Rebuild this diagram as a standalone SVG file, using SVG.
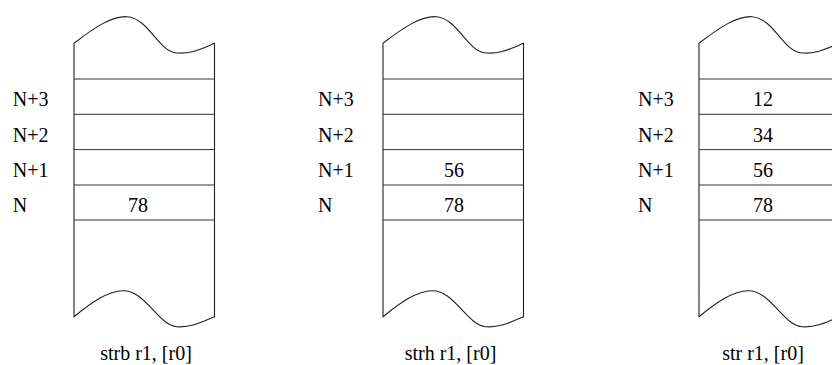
<svg xmlns="http://www.w3.org/2000/svg" width="832" height="365" viewBox="0 0 832 365">
<style>
.sh{fill:none;stroke:#222;stroke-width:1.1}
.row{stroke:#333;stroke-width:1}
.v{text-anchor:middle}
.c{text-anchor:middle}
</style>
<defs>
<g id="mem">
<path class="sh" d="M74,43.3 C95,27 112,16 127,16.7 C148,18 158,50 175,52.7 C190,55 203,48 214.5,43.3 L214.5,316.7 C204,321 192,328 176.7,326.7 C158,325 145,290 123,290.7 C108,291 92,302 74,316.7 Z"/>
<line class="row" x1="74" y1="79" x2="214.5" y2="79"/>
<line class="row" x1="74" y1="114.3" x2="214.5" y2="114.3"/>
<line class="row" x1="74" y1="149.6" x2="214.5" y2="149.6"/>
<line class="row" x1="74" y1="185" x2="214.5" y2="185"/>
<line class="row" x1="74" y1="220" x2="214.5" y2="220"/>
</g>
</defs>
<g font-family="Liberation Serif, Times New Roman, DejaVu Serif, serif" font-size="20" fill="#000">
<g id="strb">
<use href="#mem"/>
<text x="12.7" y="106">N+3</text>
<text x="12.7" y="141.5">N+2</text>
<text x="12.7" y="176.7">N+1</text>
<text x="12.7" y="211.7">N</text>
<text class="v" x="138" y="211.7">78</text>
<text class="c" x="146" y="360">strb r1, [r0]</text>
</g>
<g id="strh">
<use href="#mem" transform="translate(309,0)"/>
<text x="318" y="106">N+3</text>
<text x="318" y="141.5">N+2</text>
<text x="318" y="176.7">N+1</text>
<text x="318" y="211.7">N</text>
<text class="v" x="454" y="176.7">56</text>
<text class="v" x="454" y="211.7">78</text>
<text class="c" x="450.5" y="360">strh r1, [r0]</text>
</g>
<g id="str">
<use href="#mem" transform="translate(625,0)"/>
<text x="638" y="106">N+3</text>
<text x="638" y="141.5">N+2</text>
<text x="638" y="176.7">N+1</text>
<text x="638" y="211.7">N</text>
<text class="v" x="763" y="106">12</text>
<text class="v" x="763" y="141.5">34</text>
<text class="v" x="763" y="176.7">56</text>
<text class="v" x="763" y="211.7">78</text>
<text class="c" x="763" y="360">str r1, [r0]</text>
</g>
</g>
</svg>
